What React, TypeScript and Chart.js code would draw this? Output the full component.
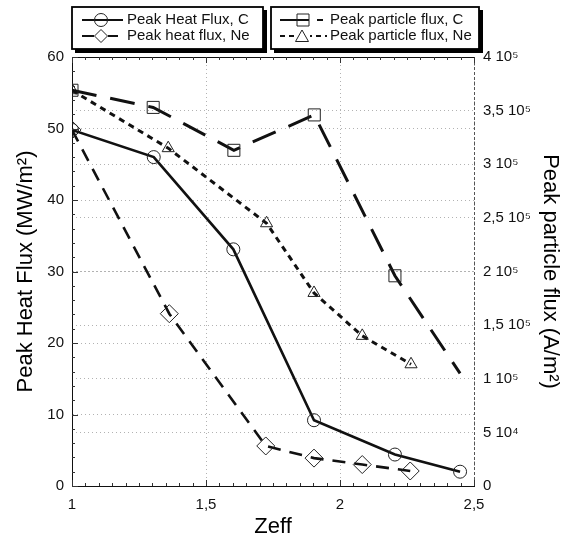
import { useEffect, useRef } from 'react';
import { Chart, registerables } from 'chart.js';

Chart.register(...registerables);

// ---- data ----
const heatCZeff = [1, 1.305, 1.602, 1.903, 2.205, 2.448];
const heatC = [49.8, 46.0, 33.1, 9.2, 4.4, 2.0];
const heatNeZeff = [1, 1.363, 1.723, 1.903, 2.083, 2.262];
const heatNe = [49.8, 24.1, 5.6, 3.9, 3.0, 2.1];
const partCZeff = [1, 1.303, 1.604, 1.904, 2.205, 2.448];
const partC = [369000, 353000, 313000, 346000, 196000, 105000];
const partNeZeff = [1, 1.359, 1.726, 1.903, 2.083, 2.265];
const partNe = [369000, 315000, 245000, 180000, 140000, 113500];

const xTickLabels = ['1', '1,5', '2', '2,5'];
const leftTickLabels = ['0', '10', '20', '30', '40', '50', '60'];
const rightTickLabels = ['0', '5 10⁴', '1 10⁵', '1,5 10⁵', '2 10⁵', '2,5 10⁵', '3 10⁵', '3,5 10⁵', '4 10⁵'];

const seriesNames = ['Peak Heat Flux, C', 'Peak heat flux, Ne', 'Peak particle flux, C', 'Peak particle flux, Ne'];

const FONT = '"Liberation Sans", Arial, Helvetica, sans-serif';

function pts(xs: number[], ys: number[]) {
  return xs.map((x, i) => ({ x, y: ys[i] }));
}

function drawMarker(ctx: CanvasRenderingContext2D, kind: string, x: number, y: number) {
  ctx.save();
  ctx.setLineDash([]);
  ctx.lineWidth = 1;
  ctx.strokeStyle = '#222';
  ctx.beginPath();
  if (kind === 'circle') {
    ctx.arc(x, y, 6.5, 0, Math.PI * 2);
  } else if (kind === 'diamond') {
    ctx.moveTo(x, y - 6.5); ctx.lineTo(x + 6.5, y); ctx.lineTo(x, y + 6.5); ctx.lineTo(x - 6.5, y); ctx.closePath();
  } else if (kind === 'square') {
    ctx.rect(x - 6, y - 6, 12, 12);
  } else {
    ctx.moveTo(x, y - 7); ctx.lineTo(x + 6.5, y + 4.5); ctx.lineTo(x - 6.5, y + 4.5); ctx.closePath();
  }
  ctx.stroke();
  ctx.restore();
}

function seg(ctx: CanvasRenderingContext2D, x1: number, x2: number, y: number, lw = 2) {
  ctx.save();
  ctx.setLineDash([]);
  ctx.lineWidth = lw;
  ctx.strokeStyle = '#111';
  ctx.beginPath();
  ctx.moveTo(x1, y);
  ctx.lineTo(x2, y);
  ctx.stroke();
  ctx.restore();
}

function box(ctx: CanvasRenderingContext2D, x: number, y: number, w: number, h: number) {
  ctx.save();
  ctx.fillStyle = '#000';
  ctx.fillRect(x + 3, y + 3, w + 1, h + 1);
  ctx.fillStyle = '#fff';
  ctx.fillRect(x, y, w, h);
  ctx.strokeStyle = '#000';
  ctx.lineWidth = 1.8;
  ctx.strokeRect(x, y, w, h);
  ctx.restore();
}

const decorPlugin = {
  id: 'decor',
  afterDraw(chart: any) {
    const ctx: CanvasRenderingContext2D = chart.ctx;
    const { left, right, top, bottom } = chart.chartArea;
    const xs = chart.scales.x;
    const ys = chart.scales.y;
    ctx.save();
    // top frame line
    ctx.strokeStyle = '#111';
    ctx.lineWidth = 1;
    ctx.beginPath();
    ctx.moveTo(left, top + 0.5);
    ctx.lineTo(right, top + 0.5);
    ctx.stroke();
    // right frame (dashed, as in the scan)
    ctx.setLineDash([3, 2]);
    ctx.strokeStyle = '#555';
    ctx.beginPath();
    ctx.moveTo(right + 0.5, top);
    ctx.lineTo(right + 0.5, bottom);
    ctx.stroke();
    ctx.setLineDash([]);
    // minor ticks on x (top and bottom)
    ctx.strokeStyle = '#333';
    for (let i = 0; i <= 30; i++) {
      const v = 1 + i * 0.05;
      const px = Math.round(xs.getPixelForValue(v)) + 0.5;
      const len = i % 10 === 0 ? 6 : 3;
      ctx.beginPath();
      ctx.moveTo(px, top);
      ctx.lineTo(px, top + len);
      ctx.moveTo(px, bottom);
      ctx.lineTo(px, bottom - len);
      ctx.stroke();
    }
    // minor ticks on left y
    for (let v = 0; v <= 60; v += 2) {
      const py = Math.round(ys.getPixelForValue(v)) + 0.5;
      const len = v % 10 === 0 ? 6 : 3;
      ctx.beginPath();
      ctx.moveTo(left, py);
      ctx.lineTo(left + len, py);
      ctx.stroke();
    }
    ctx.restore();

    // legend boxes
    ctx.save();
    box(ctx, 72, 7, 191, 42);
    box(ctx, 271, 7, 208, 42);
    const r1 = 20;
    const r2 = 36;
    seg(ctx, 82, 123, r1);
    drawMarker(ctx, 'circle', 101, r1);
    seg(ctx, 82, 94, r2);
    seg(ctx, 108, 118, r2);
    drawMarker(ctx, 'diamond', 101, r2);
    seg(ctx, 280, 309, r1);
    seg(ctx, 317, 323, r1);
    drawMarker(ctx, 'square', 303, r1);
    ctx.save();
    ctx.setLineDash([5, 4]);
    ctx.lineWidth = 2;
    ctx.strokeStyle = '#111';
    ctx.beginPath();
    ctx.moveTo(280, r2);
    ctx.lineTo(327, r2);
    ctx.stroke();
    ctx.restore();
    ctx.fillStyle = '#fff';
    ctx.fillRect(295, r2 - 8, 15, 14);
    drawMarker(ctx, 'triangle', 302, r2 + 1);

    ctx.fillStyle = '#111';
    ctx.font = `15px ${FONT}`;
    ctx.textBaseline = 'middle';
    ctx.textAlign = 'left';
    ctx.fillText(seriesNames[0], 127, r1);
    ctx.fillText(seriesNames[1], 127, r2);
    ctx.fillText(seriesNames[2], 330, r1);
    ctx.fillText(seriesNames[3], 330, r2);
    ctx.restore();
  },
};

export default function App() {
  const ref = useRef<HTMLCanvasElement | null>(null);

  useEffect(() => {
    if (!ref.current) return;
    const tickFont = { family: FONT, size: 15 };
    const titleFont = { family: FONT, size: 22 };
    const gridCommon = { color: 'rgba(0,0,0,0.3)', lineWidth: 1, drawTicks: false };
    const pointCommon = {
      pointBorderColor: '#222',
      pointBackgroundColor: 'rgba(0,0,0,0)',
      pointBorderWidth: 1,
      borderColor: '#111',
      backgroundColor: 'rgba(0,0,0,0)',
      fill: false,
      tension: 0,
    };
    const chart = new Chart(ref.current, {
      type: 'line',
      data: {
        datasets: [
          {
            ...pointCommon,
            label: seriesNames[0],
            data: pts(heatCZeff, heatC),
            yAxisID: 'y',
            borderWidth: 2.6,
            pointStyle: 'circle',
            pointRadius: 6.5,
          },
          {
            ...pointCommon,
            label: seriesNames[1],
            data: pts(heatNeZeff, heatNe),
            yAxisID: 'y',
            borderWidth: 2.6,
            borderDash: [13, 9],
            pointStyle: 'rectRot',
            pointRadius: 9,
          },
          {
            ...pointCommon,
            label: seriesNames[2],
            data: pts(partCZeff, partC),
            yAxisID: 'y1',
            borderWidth: 3,
            borderDash: [25, 14],
            pointStyle: 'rect',
            pointRadius: [8.5, 8.5, 8.5, 8.5, 8.5, 0],
          },
          {
            ...pointCommon,
            label: seriesNames[3],
            data: pts(partNeZeff, partNe),
            yAxisID: 'y1',
            borderWidth: 3,
            borderDash: [6, 5],
            pointStyle: 'triangle',
            pointRadius: 7,
          },
        ],
      },
      options: {
        responsive: false,
        animation: false,
        devicePixelRatio: 1,
        layout: { padding: { top: 57, left: 0, right: 0, bottom: 0 } },
        plugins: { legend: { display: false }, tooltip: { enabled: false } },
        scales: {
          x: {
            type: 'linear',
            min: 1,
            max: 2.5,
            ticks: {
              stepSize: 0.5,
              font: tickFont,
              color: '#111',
              padding: 10,
              maxRotation: 0,
              autoSkip: false,
              callback: (_v: any, i: number) => xTickLabels[i],
            },
            grid: gridCommon,
            border: { display: true, color: '#111', width: 1, dash: [1, 3] },
            title: { display: true, text: 'Zeff', font: titleFont, color: '#000', padding: { top: 0, bottom: 0 } },
            afterFit: (s: any) => { s.height = 54; },
          },
          y: {
            type: 'linear',
            position: 'left',
            min: 0,
            max: 60,
            ticks: {
              stepSize: 10,
              font: tickFont,
              color: '#111',
              padding: 8,
              callback: (_v: any, i: number) => leftTickLabels[i],
            },
            grid: gridCommon,
            border: { display: true, color: '#111', width: 1, dash: [1, 3] },
            title: { display: true, text: 'Peak Heat Flux (MW/m²)', font: titleFont, color: '#000', padding: { top: 13, bottom: 0 } },
            afterFit: (s: any) => { s.width = 72; },
          },
          y1: {
            type: 'linear',
            position: 'right',
            min: 0,
            max: 400000,
            ticks: {
              stepSize: 50000,
              font: tickFont,
              color: '#111',
              padding: 9,
              callback: (_v: any, i: number) => rightTickLabels[i],
            },
            grid: gridCommon,
            border: { display: false, dash: [1, 3] },
            title: { display: true, text: 'Peak particle flux (A/m²)', font: titleFont, color: '#000', padding: { top: 11, bottom: 0 } },
            afterFit: (s: any) => { s.width = 100; },
          },
        },
      },
      plugins: [decorPlugin],
    } as any);
    return () => chart.destroy();
  }, []);

  return (
    <div style={{ position: 'absolute', left: 0, top: 0, width: 574, height: 540, background: '#fff' }}>
      <canvas ref={ref} width={574} height={540} style={{ display: 'block', width: 574, height: 540 }} />
    </div>
  );
}
